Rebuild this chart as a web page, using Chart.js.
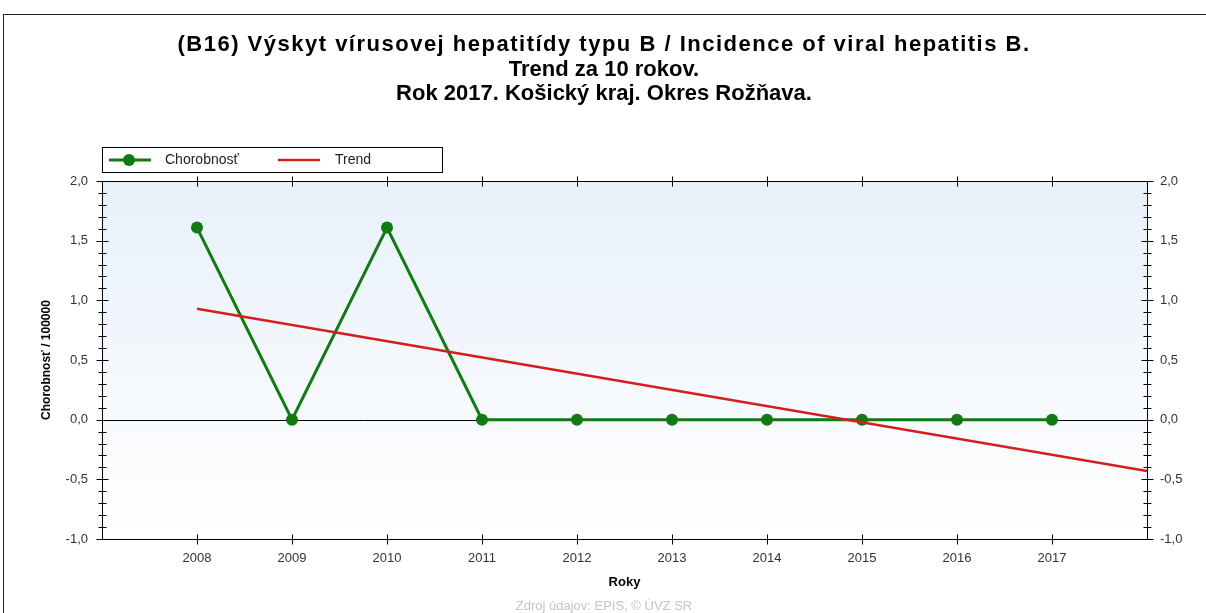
<!DOCTYPE html>
<html>
<head>
<meta charset="utf-8">
<script src="https://cdn.jsdelivr.net/npm/chart.js@4/dist/chart.umd.min.js"></script>
<style>
  html, body { margin: 0; padding: 0; background: #fff; }
  #wrap { width: 1206px; height: 613px; position: relative; }
</style>
</head>
<body>
<div id="wrap"><canvas id="chart"></canvas></div>
<script>
// data
const years = [2008, 2009, 2010, 2011, 2012, 2013, 2014, 2015, 2016, 2017]
const chorobnost = [1.61, 0, 1.61, 0, 0, 0, 0, 0, 0, 0]
const trendYears = [2008, 2018]
const trendValues = [0.93, -0.43]
const yTicks = [-1, -0.5, 0, 0.5, 1, 1.5, 2]

const titleLines = [
  '(B16) Výskyt vírusovej hepatitídy typu B / Incidence of viral hepatitis B.',
  'Trend za 10 rokov.',
  'Rok 2017. Košický kraj. Okres Rožňava.'
]
const legendLabels = ['Chorobnosť', 'Trend']
const footer = 'Zdroj údajov: EPIS, © ÚVZ SR'

const FONT = 'Arial, "Liberation Sans", sans-serif'
const GREEN = '#117a11'
const RED = '#d41e1e'

const fmt = v => v.toFixed(1).replace('.', ',')

// background, frame, ticks, legend, titles
const decor = {
  id: 'decor',
  beforeDraw(chart) {
    const { ctx, chartArea: a } = chart
    const g = ctx.createLinearGradient(0, a.top, 0, a.bottom)
    g.addColorStop(0, '#e8f0fa')
    g.addColorStop(1, '#ffffff')
    ctx.save()
    ctx.fillStyle = g
    ctx.fillRect(a.left, a.top, a.right - a.left, a.bottom - a.top)
    ctx.restore()
  },
  beforeDatasetsDraw(chart) {
    const { ctx, chartArea: a, scales } = chart
    const y0 = Math.round(scales.y.getPixelForValue(0)) + 0.5
    ctx.save()
    ctx.strokeStyle = '#000'
    ctx.lineWidth = 1
    ctx.beginPath()
    ctx.moveTo(a.left, y0); ctx.lineTo(a.right, y0)
    ctx.stroke()
    ctx.restore()
  },
  afterDraw(chart) {
    const { ctx, chartArea: a, scales } = chart
    ctx.save()
    ctx.strokeStyle = '#000'
    ctx.lineWidth = 1
    const L = Math.round(a.left) + 0.5, R = Math.round(a.right) + 0.5
    const T = Math.round(a.top) + 0.5, B = Math.round(a.bottom) + 0.5
    ctx.strokeRect(L, T, R - L, B - T)

    // y ticks on both sides (major every 0.5, minor every 0.1)
    ctx.beginPath()
    for (let i = -10; i <= 20; i++) {
      const py = Math.round(scales.y.getPixelForValue(i / 10)) + 0.5
      const len = i % 5 === 0 ? 6 : 4
      ctx.moveTo(L - len, py); ctx.lineTo(L + len, py)
      ctx.moveTo(R - len, py); ctx.lineTo(R + len, py)
    }
    // x ticks top and bottom
    years.forEach(yr => {
      const px = Math.round(scales.x.getPixelForValue(yr)) + 0.5
      ctx.moveTo(px, T - 5); ctx.lineTo(px, T + 5)
      ctx.moveTo(px, B - 5); ctx.lineTo(px, B + 5)
    })
    ctx.stroke()

    // outer frame
    ctx.strokeStyle = '#222'
    ctx.strokeRect(3.5, 14.5, 1230, 700)

    // title (first line is spread a bit wider in the original)
    ctx.fillStyle = '#000'
    ctx.font = 'bold 22px ' + FONT
    ctx.textAlign = 'center'
    ctx.textBaseline = 'middle'
    titleLines.forEach((t, i) => {
      ctx.letterSpacing = i === 0 ? '1.5px' : '0px'
      ctx.fillText(t, 604, 45 + i * 24.5)
    })
    ctx.letterSpacing = '0px'

    // footer
    ctx.fillStyle = '#c4c4c4'
    ctx.font = '13px ' + FONT
    ctx.fillText(footer, 604, 606)

    // legend
    const lx = 102.5, ly = 147.5
    ctx.fillStyle = '#fff'
    ctx.fillRect(lx, ly, 340, 25)
    ctx.strokeStyle = '#000'
    ctx.strokeRect(lx, ly, 340, 25)
    const cy = ly + 12.5
    ctx.lineWidth = 3
    ctx.strokeStyle = GREEN
    ctx.beginPath(); ctx.moveTo(109, cy); ctx.lineTo(151, cy); ctx.stroke()
    ctx.fillStyle = GREEN
    ctx.beginPath(); ctx.arc(129, cy, 6, 0, Math.PI * 2); ctx.fill()
    ctx.strokeStyle = RED
    ctx.lineWidth = 2.5
    ctx.beginPath(); ctx.moveTo(278, cy); ctx.lineTo(320, cy); ctx.stroke()
    ctx.fillStyle = '#222'
    ctx.font = '14px ' + FONT
    ctx.textAlign = 'left'
    ctx.fillText(legendLabels[0], 165, cy)
    ctx.fillText(legendLabels[1], 335, cy)
    ctx.restore()
  }
}

const tickFont = { family: FONT, size: 13 }

new Chart(document.getElementById('chart'), {
  type: 'line',
  data: {
    datasets: [
      { label: legendLabels[1], data: trendYears.map((x, i) => ({ x, y: trendValues[i] })),
        borderColor: RED, borderWidth: 2.5, pointRadius: 0, fill: false, order: 0 },
      { label: legendLabels[0], data: years.map((x, i) => ({ x, y: chorobnost[i] })),
        borderColor: GREEN, backgroundColor: GREEN, borderWidth: 3, pointRadius: 6,
        pointBorderWidth: 0, fill: false, order: 1 }
    ]
  },
  options: {
    responsive: true,
    maintainAspectRatio: false,
    animation: false,
    layout: { padding: { top: 181, left: 0, right: 0, bottom: 0 } },
    plugins: { legend: { display: false }, title: { display: false }, tooltip: { enabled: false } },
    scales: {
      x: {
        type: 'linear', position: 'bottom', min: 2007, max: 2018,
        afterBuildTicks: s => { s.ticks = years.map(v => ({ value: v })) },
        afterFit: s => { s.height = 74 },
        grid: { display: false }, border: { display: false },
        ticks: { callback: v => String(v), font: tickFont, color: '#333', padding: 4, maxRotation: 0, autoSkip: false },
        title: { display: true, text: 'Roky', color: '#000', font: { family: FONT, size: 13, weight: 'bold' }, padding: { top: 0, bottom: 23 } }
      },
      y: {
        position: 'left', min: -1, max: 2,
        afterBuildTicks: s => { s.ticks = yTicks.map(v => ({ value: v })) },
        afterFit: s => { s.width = 102 },
        grid: { display: false }, border: { display: false },
        ticks: { callback: v => fmt(v), font: tickFont, color: '#333', padding: 6 },
        title: { display: true, text: 'Chorobnosť / 100000', color: '#000', font: { family: FONT, size: 12, weight: 'bold' }, padding: { top: 39 } }
      },
      y2: {
        position: 'right', min: -1, max: 2, display: true,
        afterBuildTicks: s => { s.ticks = yTicks.map(v => ({ value: v })) },
        afterFit: s => { s.width = 59 },
        grid: { display: false }, border: { display: false },
        ticks: { callback: v => fmt(v), font: tickFont, color: '#333', padding: 5 }
      }
    }
  },
  plugins: [decor]
})
</script>
</body>
</html>
